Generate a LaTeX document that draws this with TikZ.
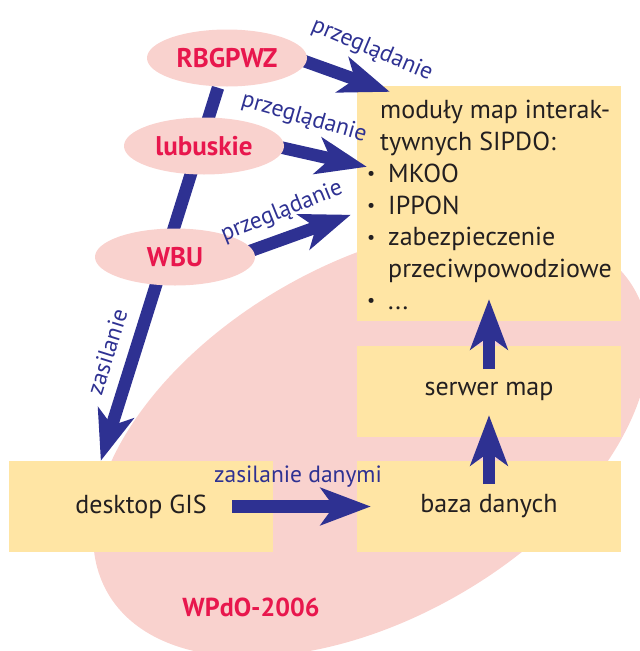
\documentclass[tikz,border=0pt]{standalone}
\usepackage{fontspec}
\setmainfont{PT Sans}
\usetikzlibrary{arrows.meta,calc,shapes.geometric}
\definecolor{navy}{RGB}{46,49,146}
\definecolor{crim}{RGB}{232,23,77}
\definecolor{pinkf}{RGB}{249,210,206}
\definecolor{boxf}{RGB}{255,229,164}
\definecolor{txt}{RGB}{35,31,32}
\pgfdeclarelayer{back}\pgfdeclarelayer{mid}\pgfsetlayers{back,mid,main}
\newcommand{\mybul}{\makebox[21pt][l]{\raisebox{2.5pt}{\fontsize{18}{18}\selectfont •}}}
\begin{document}
\begin{tikzpicture}[x=1pt,y=-1pt,
 box/.style={fill=boxf, draw=none, rectangle, minimum width=264pt, inner sep=0pt, text=txt, font=\fontsize{26}{31.8}\selectfont},
 blob/.style={ellipse, fill=pinkf, minimum width=160pt, minimum height=57pt, inner sep=0pt, text=crim, font=\bfseries\fontsize{27}{30}\selectfont},
 flow/.style={draw=navy, line width=12.5pt, -{Stealth[length=50pt,width=37pt,inset=13pt]}},
 lbl/.style={text=navy, font=\fontsize{23.5}{26}\selectfont, inner sep=0pt}]
\useasboundingbox (0,0) rectangle (640,651);
\begin{pgfonlayer}{back}
 \fill[pinkf, rotate around={30:(371,441)}] (371,441) ellipse [x radius=304, y radius=177];
 \node[box, minimum height=235pt] (mod) at (489,203.5) {};
 \node[box, minimum height=91pt] (serw) at (489,391.5) {serwer map};
 \node[box, minimum height=91pt] (baza) at (489,506.5) {baza danych};
 \node[box, minimum height=91pt] (desk) at (141,506.5) {desktop GIS};
\end{pgfonlayer}
% blobs (on top of arrows)
\node[blob] (rb) at (227,58) {RBGPWZ};
\node[blob] (lu) at (204,146) {lubuskie};
\node[blob] (wb) at (175,257) {WBU};
% coordinates for arrow ends
\coordinate (t1) at ($(mod.north west)+(33,6)$);
\coordinate (t2) at ($(mod.north west)+(10,81)$);
\coordinate (t3) at ($(mod.north west)+(-6,129)$);
\coordinate (t4) at ($(desk.north west)+(92,0)$);
\begin{pgfonlayer}{mid}
 \draw[flow] ($(rb.east)+(-17,-2)$) -- (t1);
 \draw[flow] ($(lu.east)+(-14,-1)$) -- (t2);
 \draw[flow] ($(wb.east)+(-16,-2)$) -- (t3);
 \draw[flow] ($(rb.south)+(-9,1)$) -- (t4);
 \draw[flow] ($(desk.center)+(91,0)$) -- ($(baza.west)+(14,0)$);
 \draw[flow] ($(baza.center)+(0,-22.5)$) -- ($(serw.south)+(0,-22)$);
 \draw[flow] ($(serw.center)+(0,-22.5)$) -- ($(mod.south)+(0,-22)$);
\end{pgfonlayer}
% module text
\node[anchor=north west, align=left, inner sep=0pt, text=txt, font=\fontsize{26}{31.8}\selectfont] (modtxt) at (367,100) {%
\hspace*{13pt}moduły map interak-\\
\hspace*{13pt}tywnych SIPDO:\\
\mybul MKOO\\
\mybul IPPON\\
\mybul zabezpieczenie\\
\hspace*{21pt}przeciwpowodziowe\\
\mybul ...};
% labels
\node[lbl, rotate=-23] (l1) at (372,50) {przeglądanie};
\node[lbl, rotate=-16] (l2) at (304,118) {przeglądanie};
\node[lbl, rotate=22] (l3) at (282,212) {przeglądanie};
\node[lbl, rotate=72.6] (l4) at (107,352) {zasilanie};
\node[lbl] (l5) at (298,477) {zasilanie danymi};
\node[text=crim, font=\bfseries\fontsize{26}{30}\selectfont] (wp) at (251,607) {WPdO-2006};
\end{tikzpicture}
\end{document}
